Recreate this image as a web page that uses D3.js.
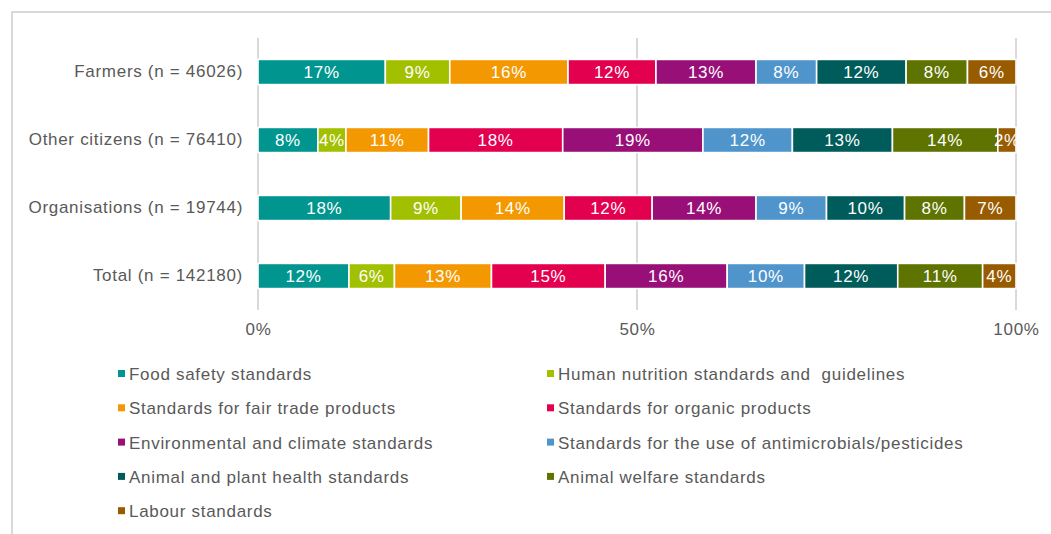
<!DOCTYPE html>
<html><head><meta charset="utf-8">
<script src="https://cdn.jsdelivr.net/npm/d3@7"></script>
<style>
html,body{margin:0;padding:0;background:#fff;}
svg{display:block;font-family:"Liberation Sans",Arial,sans-serif;}
</style></head>
<body>
<svg id="c" width="1051" height="534"></svg>
<script>
const categories = ["Farmers (n = 46026)", "Other citizens (n = 76410)", "Organisations (n = 19744)", "Total (n = 142180)"];
const seriesNames = ["Food safety standards", "Human nutrition standards and  guidelines", "Standards for fair trade products", "Standards for organic products", "Environmental and climate standards", "Standards for the use of antimicrobials/pesticides", "Animal and plant health standards", "Animal welfare standards", "Labour standards"];
const seriesColors = ["#00968f", "#a2c000", "#f39800", "#e3004f", "#990f78", "#4f95cc", "#005c5a", "#5e7300", "#985b00"];
// values per series (percent), order follows categories
const foodSafety   = [16.8, 7.9, 17.5, 12.0];
const nutrition    = [8.5, 3.7, 9.3, 6.0];
const fairTrade    = [15.6, 10.9, 13.6, 12.8];
const organic      = [11.6, 17.7, 11.6, 15.0];
const environment  = [13.2, 18.5, 13.7, 16.1];
const antimicrob   = [8.0, 11.8, 9.3, 10.2];
const plantHealth  = [11.8, 13.2, 10.3, 12.3];
const welfare      = [8.1, 13.9, 7.9, 11.2];
const labour       = [6.4, 2.4, 6.8, 4.4];
const tickValues = [0, 50, 100];
const tickLabels = ["0%", "50%", "100%"];

const seriesValues = [foodSafety, nutrition, fairTrade, organic, environment, antimicrob, plantHealth, welfare, labour];
const keys = seriesNames;
const table = categories.map((c, i) => {
  const o = {category: c};
  keys.forEach((k, j) => o[k] = seriesValues[j][i]);
  return o;
});

const svg = d3.select("#c");
const textColor = "#595959";
const grid = "#d9d9d9";
const FS = 17, LS = "0.7px";

// frame
svg.append("rect").attr("x", 12).attr("y", 12).attr("width", 1051).attr("height", 540)
  .attr("fill", "none").attr("stroke", grid).attr("stroke-width", 2);

const x = d3.scaleLinear().domain([0, 100]).range([258, 1016]);
const y = d3.scaleBand().domain(categories).range([38, 310]).paddingInner(0.63).paddingOuter(0.315);

// gridlines
svg.append("g").selectAll("line").data(tickValues).join("line")
  .attr("x1", d => x(d)).attr("x2", d => x(d)).attr("y1", 38).attr("y2", 310)
  .attr("stroke", grid).attr("stroke-width", 2);

const stack = d3.stack().keys(keys)(table);

const layers = svg.append("g").selectAll("g").data(stack).join("g")
  .attr("fill", (d, i) => seriesColors[i]);
layers.selectAll("rect").data(d => d).join("rect")
  .attr("x", d => x(d[0])).attr("width", d => x(d[1]) - x(d[0]))
  .attr("y", d => y(d.data.category)).attr("height", y.bandwidth())
  .attr("stroke", "#fff").attr("stroke-width", 1.6);

layers.selectAll("text").data(d => d).join("text")
  .attr("x", d => (x(d[0]) + x(d[1])) / 2)
  .attr("y", d => y(d.data.category) + y.bandwidth() / 2)
  .attr("dy", "0.36em").attr("text-anchor", "middle")
  .attr("fill", "#fff").attr("font-size", FS).style("letter-spacing", LS)
  .text(d => Math.round(d[1] - d[0]) + "%");

// category axis
const yAxis = svg.append("g").attr("transform", "translate(258,0)")
  .call(d3.axisLeft(y).tickSize(0).tickPadding(15));
yAxis.select(".domain").remove();
yAxis.selectAll("text").attr("font-size", FS).attr("fill", textColor).style("letter-spacing", LS)
  .attr("font-family", "Liberation Sans, Arial, sans-serif");

// value axis
const xAxis = svg.append("g").attr("transform", "translate(0,310)")
  .call(d3.axisBottom(x).tickValues(tickValues).tickFormat((d, i) => tickLabels[i]).tickSize(0).tickPadding(13));
xAxis.select(".domain").remove();
xAxis.selectAll("text").attr("font-size", FS).attr("fill", textColor).style("letter-spacing", LS)
  .attr("font-family", "Liberation Sans, Arial, sans-serif");

// legend
const legend = svg.append("g");
seriesNames.forEach((name, i) => {
  const col = i % 2, row = Math.floor(i / 2);
  const lx = col === 0 ? 118 : 547;
  const ly = 374 + row * 34.3;
  const g = legend.append("g").attr("transform", `translate(${lx},${ly})`);
  g.append("rect").attr("x", 0).attr("y", -4).attr("width", 7).attr("height", 7).attr("fill", seriesColors[i]);
  g.append("text").attr("x", 11).attr("y", 0).attr("dy", "0.36em")
    .attr("font-size", FS).attr("fill", textColor).style("white-space", "pre").style("letter-spacing", LS).text(name);
});
</script>
</body></html>
